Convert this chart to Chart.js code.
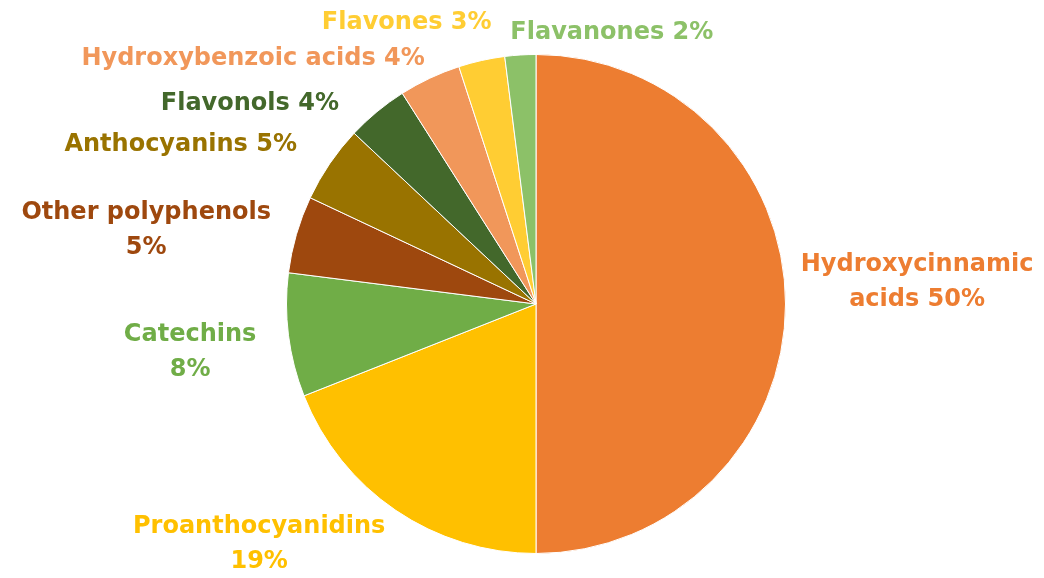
<!DOCTYPE html>
<html>
<head>
<meta charset="utf-8">
<script src="https://cdn.jsdelivr.net/npm/chart.js@4"></script>
<style>
  html, body { margin: 0; padding: 0; background: #fff; }
  #wrap { width: 1044px; height: 578px; }
</style>
</head>
<body>
<div id="wrap"><canvas id="myChart" width="1044" height="578"></canvas></div>
<script>
// categories and shares (%), clockwise from 12 o'clock
const categories = [
  'Hydroxycinnamic acids', 'Proanthocyanidins', 'Catechins', 'Other polyphenols',
  'Anthocyanins', 'Flavonols', 'Hydroxybenzoic acids', 'Flavones', 'Flavanones'
]
const shares = [50, 19, 8, 5, 5, 4, 4, 3, 2]
const sliceColors = [
  '#ED7D31', '#FFC000', '#70AD47', '#9E480E',
  '#997300', '#43682B', '#F1975A', '#FFCD33', '#8CC168'
]
// how each label is wrapped (text lines)
const labelLines = [
  ['Hydroxycinnamic', 'acids 50%'],
  ['Proanthocyanidins', '19%'],
  ['Catechins', '8%'],
  ['Other polyphenols', '5%'],
  ['Anthocyanins 5%'],
  ['Flavonols 4%'],
  ['Hydroxybenzoic acids 4%'],
  ['Flavones 3%'],
  ['Flavanones 2%']
]
// label placement: angle shift from slice middle (deg) and distance / radius
const labelShift = [-3.3, 14.8, -0.8, -5.5, -10.1, -15.4, -23.9, -12.1, 19.2]
const labelDist = [1.53, 1.47, 1.40, 1.59, 1.56, 1.40, 1.50, 1.24, 1.13]

const outsideLabels = {
  id: 'outsideLabels',
  afterDatasetsDraw(chart) {
    const ctx = chart.ctx
    const meta = chart.getDatasetMeta(0)
    ctx.save()
    ctx.font = 'bold 24px "DejaVu Sans"'
    ctx.textAlign = 'center'
    ctx.textBaseline = 'middle'
    meta.data.forEach((arc, i) => {
      const p = arc.getProps(['x', 'y', 'startAngle', 'endAngle', 'outerRadius'], true)
      const a = (p.startAngle + p.endAngle) / 2 + labelShift[i] * Math.PI / 180
      const r = p.outerRadius * labelDist[i]
      const cx = p.x + Math.cos(a) * r
      const cy = p.y + Math.sin(a) * r
      const lines = labelLines[i]
      const lh = 35
      ctx.fillStyle = sliceColors[i]
      lines.forEach((t, k) => {
        ctx.fillText(t, cx, cy + (k - (lines.length - 1) / 2) * lh)
      })
    })
    ctx.restore()
  }
}

new Chart('myChart', {
  type: 'pie',
  data: {
    labels: categories,
    datasets: [{
      data: shares,
      backgroundColor: sliceColors,
      borderColor: '#ffffff',
      borderWidth: 1
    }]
  },
  options: {
    responsive: false,
    maintainAspectRatio: false,
    animation: false,
    layout: { padding: { top: 54, bottom: 24, left: 28, right: 0 } },
    plugins: {
      legend: { display: false },
      tooltip: { enabled: false }
    }
  },
  plugins: [outsideLabels]
})
</script>
</body>
</html>
